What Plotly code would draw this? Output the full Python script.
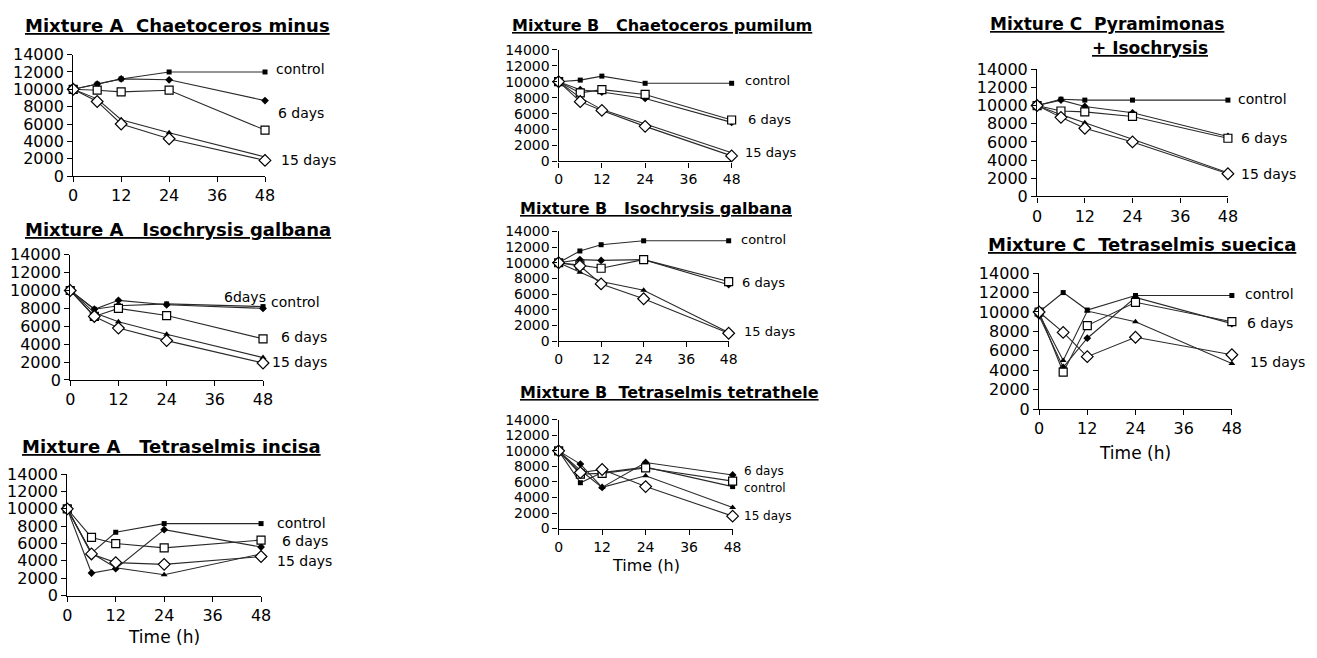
import plotly.graph_objects as go

W, H = 1317, 658

# ---------------- data ----------------
time_h = [0, 6, 12, 24, 48]
x_ticks = [0, 12, 24, 36, 48]
y_ticks = [0, 2000, 4000, 6000, 8000, 10000, 12000, 14000]

# series order: control (filled square), 6 days (filled diamond), 6 days (open square),
#               15 days (filled triangle), 15 days (open diamond)
a_chaetoceros_minus = [
    [10000, 10600, 11200, 12000, 12000],
    [10000, 10600, 11200, 11100, 8700],
    [10000, 9900, 9700, 9900, 5300],
    [10000, 8900, 6500, 5000, 2200],
    [10000, 8600, 6000, 4300, 1800],
]
a_isochrysis = [
    [10000, 7900, 8300, 8500, 8200],
    [10000, 7900, 8900, 8400, 8000],
    [10000, 7100, 8000, 7200, 4600],
    [10000, 7500, 6500, 5100, 2500],
    [10000, 7100, 5800, 4400, 1900],
]
a_tetraselmis_incisa = [
    [10000, 4900, 7300, 8300, 8300],
    [10000, 2600, 3100, 7600, 5600],
    [10000, 6700, 6000, 5500, 6400],
    [10000, 4900, 3200, 2400, 4800],
    [10000, 4800, 3800, 3600, 4500],
]
b_chaetoceros_pumilum = [
    [10000, 10200, 10700, 9800, 9800],
    [10000, 9000, 8700, 7900, 4900],
    [10000, 8600, 9000, 8400, 5200],
    [10000, 8000, 6500, 4700, 1100],
    [10000, 7500, 6400, 4400, 700],
]
b_isochrysis = [
    [10000, 11500, 12300, 12800, 12800],
    [10000, 10400, 10300, 10400, 7200],
    [10000, 9700, 9300, 10400, 7600],
    [10000, 8800, 7600, 6500, 1100],
    [10000, 9600, 7300, 5400, 1000],
]
b_tetraselmis_tetrathele = [
    [10000, 5900, 7200, 7900, 5400],
    [10000, 8300, 5300, 8500, 6900],
    [10000, 7000, 7100, 7800, 6100],
    [10000, 7500, 5300, 6800, 2700],
    [10000, 7200, 7600, 5400, 1600],
]
c_pyramimonas_isochrysis = [
    [10000, 10700, 10600, 10600, 10600],
    [10000, 10600, 9900, 9200, 6600],
    [10000, 9400, 9300, 8800, 6400],
    [10000, 9000, 8100, 6300, 2600],
    [10000, 8700, 7500, 6000, 2500],
]
c_tetraselmis_suecica = [
    [10000, 12000, 10200, 11700, 11700],
    [9600, 4300, 7300, 11500, 8800],
    [10000, 3800, 8600, 11000, 9000],
    [9800, 5000, 10100, 9000, 4700],
    [10000, 7900, 5400, 7400, 5600],
]

series_names = ["control", "6 days", "6 days", "15 days", "15 days"]

# ---------------- styles ----------------
FONT = "DejaVu Sans"
LINE_COL = "#2a2a2a"
marker_styles = [
    dict(symbol="square", size=5, color="black", line=dict(color="black", width=0)),
    dict(symbol="diamond", size=6, color="black", line=dict(color="black", width=0)),
    dict(symbol="square", size=8, color="white", line=dict(color="black", width=1.2)),
    dict(symbol="triangle-up", size=6, color="black", line=dict(color="black", width=0)),
    dict(symbol="diamond", size=9, color="white", line=dict(color="black", width=1.2)),
]

def px(x):
    return x / W

def py(y):
    return 1 - y / H

# font sizes per panel: (title, ticks, labels, axis title)
F_LEFT = (18, 16, 14, 17)
F_MID = (16, 14, 13, 16)
F_MID3 = (16, 14, 12, 16)
F_C1 = (17, 16, 14, 17)
F_C2 = (18, 16, 14, 17)

panels = [
    dict(title=["Mixture A&nbsp; Chaetoceros minus"], tpos=[(18, 17)], data=a_chaetoceros_minus,
         box=(69, 263, 47, 172), fs=F_LEFT,
         labels=[("control", 273, 62), ("6 days", 275, 107), ("15 days", 278, 155)], xlab=None),
    dict(title=["Mixture A&nbsp;&nbsp; Isochrysis galbana"], tpos=[(18, 227)], data=a_isochrysis,
         box=(66, 261, 253, 382), fs=F_LEFT,
         labels=[("6days", 221, 297), ("control", 268, 302), ("6 days", 278, 338), ("15 days", 269, 363)],
         xlab=None),
    dict(title=["Mixture A&nbsp;&nbsp; Tetraselmis incisa"], tpos=[(15, 450)], data=a_tetraselmis_incisa,
         box=(63, 259, 479, 604), fs=F_LEFT,
         labels=[("control", 274, 529), ("6 days", 279, 548), ("15 days", 274, 568)], xlab=647),
    dict(title=["Mixture B&nbsp;&nbsp; Chaetoceros pumilum"], tpos=[(511, 17)], data=b_chaetoceros_pumilum,
         box=(560, 735, 42, 157), fs=F_MID,
         labels=[("control", 748, 74), ("6 days", 751, 114), ("15 days", 748, 148)], xlab=None),
    dict(title=["Mixture B&nbsp;&nbsp; Isochrysis galbana"], tpos=[(519, 205)], data=b_isochrysis,
         box=(560, 732, 229, 342), fs=F_MID,
         labels=[("control", 743, 237), ("6 days", 744, 282), ("15 days", 747, 332)], xlab=None),
    dict(title=["Mixture B&nbsp; Tetraselmis tetrathele"], tpos=[(519, 395)], data=b_tetraselmis_tetrathele,
         box=(560, 736, 423, 535), fs=F_MID3,
         labels=[("6 days", 746, 476), ("control", 746, 493), ("15 days", 747, 522)], xlab=573),
    dict(title=["Mixture C&nbsp; Pyramimonas", "+ Isochrysis"], tpos=[(994, 15), (1097, 40)],
         data=c_pyramimonas_isochrysis, box=(1044, 1237, 62, 193), fs=F_C1,
         labels=[("control", 1246, 93), ("6 days", 1249, 133), ("15 days", 1249, 170)], xlab=None),
    dict(title=["Mixture C&nbsp; Tetraselmis suecica"], tpos=[(992, 242)], data=c_tetraselmis_suecica,
         box=(1046, 1241, 272, 412), fs=F_C2,
         labels=[("control", 1253, 293), ("6 days", 1255, 323), ("15 days", 1258, 363)], xlab=457),
]

fig = go.Figure()
layout = dict(
    width=W, height=H, margin=dict(l=0, r=0, t=0, b=0),
    paper_bgcolor="white", plot_bgcolor="white", showlegend=False,
    font=dict(family=FONT, color="black", size=14),
)
annotations = []

for i, p in enumerate(panels):
    n = i + 1
    xa = "x" if n == 1 else f"x{n}"
    ya = "y" if n == 1 else f"y{n}"
    x0, x1, y0, y1 = p["box"]
    f_title, f_tick, f_lab, f_ax = p["fs"]
    for s, vals in enumerate(p["data"]):
        fig.add_trace(go.Scatter(
            x=time_h, y=vals, mode="lines+markers", name=series_names[s],
            line=dict(color=LINE_COL, width=1.1), marker=marker_styles[s],
            xaxis=xa, yaxis=ya, cliponaxis=False,
        ))
    common = dict(showgrid=False, zeroline=False, showline=True, linecolor="black", linewidth=1.3,
                  ticks="outside", ticklen=5, tickwidth=1.3, tickcolor="black",
                  tickfont=dict(family=FONT, size=f_tick, color="black"))
    layout["xaxis" if n == 1 else f"xaxis{n}"] = dict(
        common, domain=[px(x0), px(x1)], anchor=ya, range=[0, 48],
        tickmode="array", tickvals=x_ticks, ticktext=[str(v) for v in x_ticks])
    layout["yaxis" if n == 1 else f"yaxis{n}"] = dict(
        common, domain=[py(y1), py(y0)], anchor=xa, range=[0, 14000],
        tickmode="array", tickvals=y_ticks, ticktext=[str(v) for v in y_ticks])
    for t, (tx, ty) in zip(p["title"], p["tpos"]):
        annotations.append(dict(text=f"<b><u>{t}</u></b>", x=px(tx), y=py(ty), xref="paper", yref="paper",
                                xanchor="left", yanchor="middle", showarrow=False,
                                font=dict(family=FONT, size=f_title, color="black")))
    for txt, lx, ly in p["labels"]:
        annotations.append(dict(text=txt, x=px(lx), y=py(ly), xref="paper", yref="paper",
                                xanchor="left", yanchor="middle", showarrow=False, borderpad=0,
                                font=dict(family=FONT, size=f_lab, color="black")))
    if p["xlab"] is not None:
        annotations.append(dict(text="Time (h)", x=px((x0 + x1) / 2), y=py(p["xlab"]), xref="paper",
                                yref="paper", xanchor="center", yanchor="middle", showarrow=False,
                                font=dict(family=FONT, size=f_ax, color="black")))

layout["annotations"] = annotations
fig.update_layout(**layout)
fig.write_html("out.html")
